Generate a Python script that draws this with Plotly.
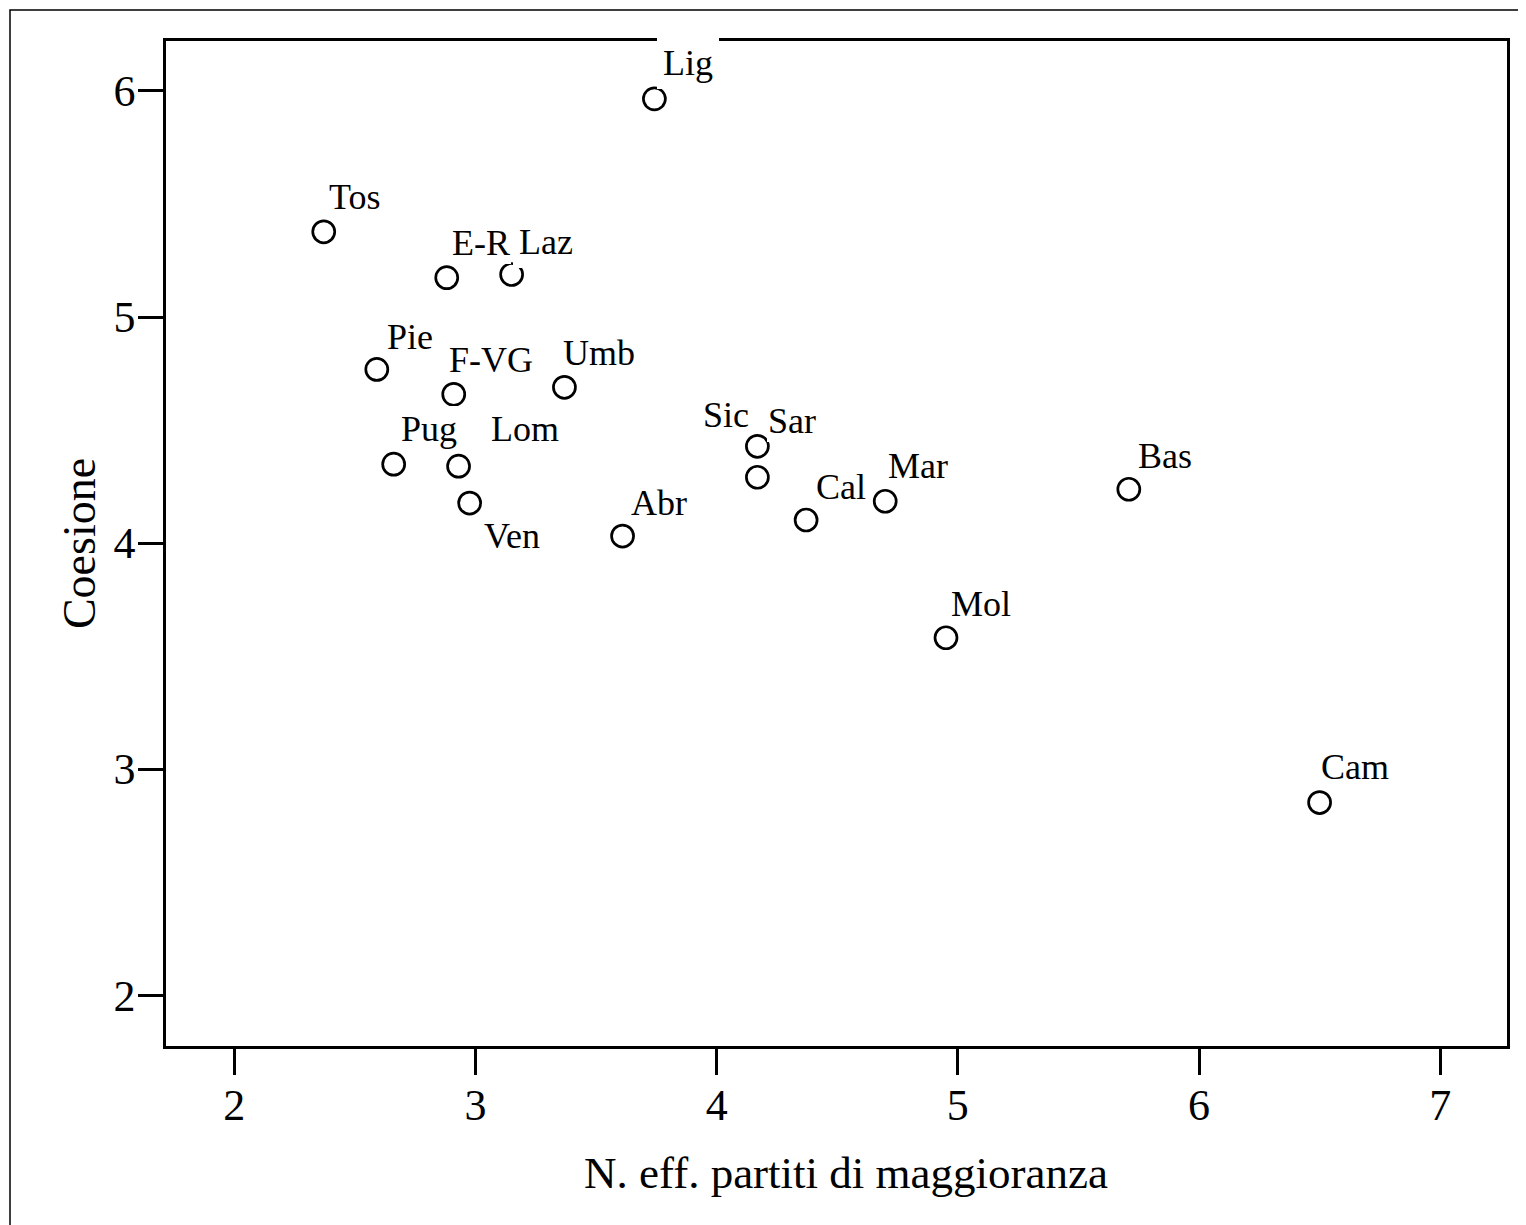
import plotly.graph_objects as go

# Data
regions = ["Lig", "Tos", "E-R", "Laz", "Pie", "F-VG", "Umb", "Sic", "Sar", "Pug",
           "Lom", "Ven", "Abr", "Cal", "Mar", "Bas", "Mol", "Cam"]
n_eff = [3.742, 2.371, 2.881, 3.150, 2.591, 2.910, 3.369, 4.169, 4.169, 2.661,
         2.930, 2.976, 3.610, 4.371, 4.699, 5.709, 4.951, 6.500]
coesione = [5.965, 5.377, 5.174, 5.188, 4.768, 4.658, 4.689, 4.428, 4.291, 4.349,
            4.340, 4.177, 4.031, 4.102, 4.185, 4.238, 3.581, 2.852]
x_ticks = [2, 3, 4, 5, 6, 7]
y_ticks = [2, 3, 4, 5, 6]

# Label placement offsets in pixels (text left edge dx, cap-middle dy; screen coords)
label_offsets = {
    "Lig": (9, -36), "Tos": (5, -35), "E-R": (5, -35), "Laz": (7, -33),
    "Pie": (10, -32), "F-VG": (-5, -34), "Umb": (-1, -34), "Sic": (-54, -31),
    "Sar": (11, -56), "Pug": (7, -35), "Lom": (32, -37), "Ven": (14, 33),
    "Abr": (8, -33), "Cal": (10, -33), "Mar": (3, -35), "Bas": (9, -33),
    "Mol": (5, -34), "Cam": (1, -36),
}
# white label box padding (labels hide parts of nearby markers / frame)
label_pads = {"Lig": 6, "Pug": 3, "Laz": 6}
DEFAULT_PAD = 1

FONT = "Liberation Serif, Times New Roman, serif"
# the page body adds an 8px offset, so the figure is 8px smaller
W, H = 1518, 1217
L, R, T, B = 158, 19, 33, 179
pw = W - L - R
ph = H - T - B

fig = go.Figure()
fig.add_trace(go.Scatter(
    x=n_eff, y=coesione, mode="markers",
    marker=dict(symbol="circle-open", size=22, color="black",
                line=dict(width=2.7, color="black")),
    hoverinfo="skip", showlegend=False,
))

annotations = []
for name, xv, yv in zip(regions, n_eff, coesione):
    dx, dy = label_offsets[name]
    pad = label_pads.get(name, DEFAULT_PAD)
    annotations.append(dict(
        x=xv, y=yv, xref="x", yref="y", text=name, showarrow=False,
        xanchor="left", yanchor="middle",
        xshift=dx - pad, yshift=-dy,
        font=dict(family=FONT, size=36, color="black"),
        bgcolor="white", borderpad=pad, borderwidth=0,
    ))

# x-axis title (slightly right of the plot centre, as in the reference)
annotations.append(dict(
    x=(838 - L) / pw, y=-(1165 - (T + ph)) / ph, xref="paper", yref="paper",
    text="N. eff. partiti di maggioranza", showarrow=False,
    xanchor="center", yanchor="middle",
    font=dict(family=FONT, size=45, color="black"),
))

shapes = [dict(
    type="rect", xref="paper", yref="paper",
    x0=(2 - L) / pw, x1=(W + 50 - L) / pw,
    y0=-(H + 50 - T - ph) / ph, y1=1 + (T - 2) / ph,
    line=dict(color="black", width=1.5), fillcolor="rgba(0,0,0,0)", layer="below",
)]

fig.update_layout(
    width=W, height=H,
    margin=dict(l=L, r=R, t=T, b=B, autoexpand=False),
    paper_bgcolor="white", plot_bgcolor="white",
    font=dict(family=FONT, color="black"),
    annotations=annotations, shapes=shapes,
)
fig.update_xaxes(
    range=[1.717, 7.277], tickvals=x_ticks, ticktext=[str(v) for v in x_ticks],
    showgrid=False, zeroline=False, showline=True, mirror=True,
    linecolor="black", linewidth=2.5,
    ticks="outside", ticklen=26, tickwidth=3, tickcolor="black",
    tickfont=dict(family=FONT, size=44, color="black"), ticklabelstandoff=-8,
    automargin=False,
)
fig.update_yaxes(
    range=[1.775, 6.221], tickvals=y_ticks, ticktext=[str(v) for v in y_ticks],
    showgrid=False, zeroline=False, showline=True, mirror=True,
    linecolor="black", linewidth=2.5,
    ticks="outside", ticklen=25, tickwidth=3, tickcolor="black",
    tickfont=dict(family=FONT, size=44, color="black"), ticklabelstandoff=-6,
    title=dict(text="Coesione", standoff=4,
               font=dict(family=FONT, size=46, color="black")),
    automargin=False,
)

fig.write_html("out.html")
